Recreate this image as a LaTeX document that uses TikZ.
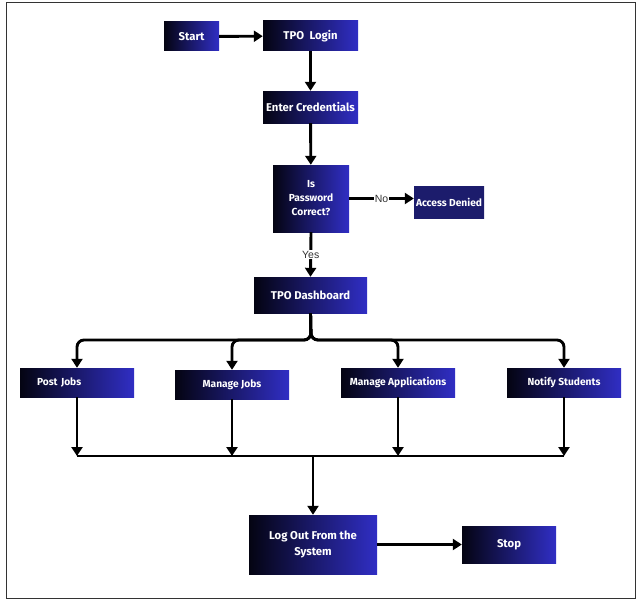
\documentclass[tikz,border=0pt]{standalone}
\usepackage{fontspec}
\setmainfont{Fira Sans}
\newfontfamily\lblfont{Liberation Sans}
\usetikzlibrary{arrows.meta,calc}
\definecolor{gl}{RGB}{4,4,18}
\definecolor{gr}{RGB}{48,46,196}
\definecolor{deny}{RGB}{28,28,108}
\tikzset{
  box/.style={draw=none, left color=gl, right color=gr, text=white, font=\fontsize{11.3}{16}\selectfont\bfseries, align=center, inner sep=0pt},
  smallbox/.style={box, font=\fontsize{10.2}{14}\selectfont\bfseries},
  arr/.style={line width=2.9pt, -{Triangle[width=11pt,length=9pt]}},
  ln/.style={line width=2.9pt},
  lbl/.style={fill=white, inner sep=1pt, font=\lblfont\fontsize{10.5}{12}\selectfont, text=black!80}
}
\begin{document}
\begin{tikzpicture}[x=1pt,y=-1pt]
\useasboundingbox (0,0) rectangle (642,602);
\draw[line width=0.8pt, black!80] (6,2.5) rectangle (635.5,598.5);

\node[box, minimum width=55pt, minimum height=29pt] (start) at (191.5,36.5) {Start};
\node[box, minimum width=95pt, minimum height=30pt] (login) at (310.5,36) {TPO\ \ Login};
\node[box, minimum width=95pt, minimum height=32pt] (cred) at (310.5,107) {Enter Credentials};
\node[smallbox, minimum width=76pt, minimum height=67pt] (pass) at (311,198.5) {Is\\Password\\Correct?};
\node[smallbox, left color=deny, right color=deny, minimum width=70pt, minimum height=32pt] (deny) at (449,202) {Access Denied};
\node[box, minimum width=113pt, minimum height=36pt] (dash) at (310.5,295) {TPO Dashboard};
\node[smallbox, text width=80pt, align=left, inner xsep=17pt, minimum height=29pt] (post) at (77,382.5) {Post Jobs};
\node[smallbox, minimum width=114pt, minimum height=29pt] (mjobs) at (232,384.5) {Manage Jobs};
\node[smallbox, minimum width=114pt, minimum height=29pt] (mapp) at (398,382.5) {Manage Applications};
\node[smallbox, minimum width=114pt, minimum height=29pt] (notify) at (564,382.5) {Notify Students};
\node[box, minimum width=128pt, minimum height=59pt] (logout) at (313,544.5) {Log Out From the\\System};
\node[box, minimum width=94pt, minimum height=37pt] (stop) at (509,544.5) {Stop};

\draw[arr] (start) -- (login);
\draw[arr] (login) -- (cred);
\draw[arr] (cred) -- (pass);
\draw[arr] (pass.east) -- node[lbl]{No} (pass.east -| deny.west);
\draw[arr] (pass.south) -- node[lbl]{Yes} (dash.north);

\coordinate (fork) at (311,340);
\draw[arr, rounded corners=7pt] (dash.south) -- (fork) -| (post.north);
\draw[arr, rounded corners=7pt] (dash.south) -- (fork) -| (mjobs.north);
\draw[arr, rounded corners=7pt] (dash.south) -- (fork) -| (mapp.north);
\draw[arr, rounded corners=7pt] (dash.south) -- (fork) -| (notify.north);

\coordinate (m1) at (77,456);
\coordinate (m2) at (232,456);
\coordinate (m3) at (398,456);
\coordinate (m4) at (564,456);
\coordinate (mc) at (313,456);
\draw[arr] (post.south) -- (m1);
\draw[arr] (mjobs.south) -- (m2);
\draw[arr] (mapp.south) -- (m3);
\draw[arr] (notify.south) -- (m4);
\draw[ln] (m1) -- (m4);
\draw[arr] (mc) -- (logout.north);
\draw[arr] (logout.east |- stop.west) -- (stop.west);
\end{tikzpicture}
\end{document}
